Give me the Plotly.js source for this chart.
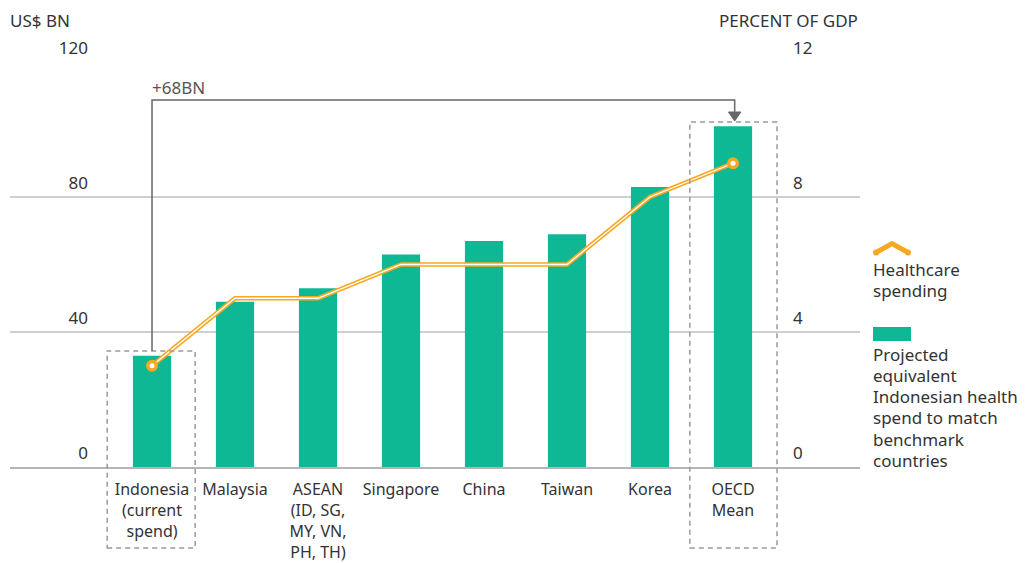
<!DOCTYPE html>
<html><head><meta charset="utf-8">
<script src="https://cdn.plot.ly/plotly-3.0.1.min.js"></script>
<style>html,body{margin:0;padding:0;background:#fff}#chart{width:1029px;height:563px}</style>
</head><body><div id="chart"></div>
<script>
// ---- data ----
const categories = ['Indonesia', 'Malaysia', 'ASEAN', 'Singapore', 'China', 'Taiwan', 'Korea', 'OECD Mean'];
const tickLabels = ['Indonesia<br>(current<br>spend)', 'Malaysia', 'ASEAN<br>(ID, SG,<br>MY, VN,<br>PH, TH)', 'Singapore', 'China', 'Taiwan', 'Korea', 'OECD<br>Mean'];
const spendBn = [33, 49, 53, 63, 67, 69, 83, 101];
const pctGdp = [3.0, 5.0, 5.0, 6.0, 6.0, 6.0, 8.0, 9.0];
const leftTicks = [0, 40, 80, 120];
const rightTicks = [0, 4, 8, 12];
const gapLabel = '+68BN';
const legendLineLines = ['Healthcare', 'spending'];
const legendBarLines = ['Projected', 'equivalent', 'Indonesian health', 'spend to match', 'benchmark', 'countries'];

// ---- styling ----
const GREEN = '#0fb894';
const ORANGE = '#f6a823';
const TEXT = '#333333';
const FONT = 'Noto Sans, Open Sans, sans-serif';
const FS = 17;
const W = 1029, H = 563, ML = 10, MR = 169, MT = 62, MB = 96;
const PW = W - ML - MR, PH = H - MT - MB;
const px = p => (p - ML) / PW;
const py = p => (H - MB - p) / PH;

const iFirst = 0, iLast = categories.length - 1;
const markIdx = [iFirst, iLast];

const traces = [
  {type: 'bar', x: categories, y: spendBn, marker: {color: GREEN}, yaxis: 'y', hoverinfo: 'x+y', showlegend: false},
  {type: 'scatter', mode: 'lines', x: categories, y: pctGdp, yaxis: 'y2', line: {color: ORANGE, width: 4.5}, showlegend: false, hoverinfo: 'skip'},
  {type: 'scatter', mode: 'lines', x: categories, y: pctGdp, yaxis: 'y2', line: {color: '#ffffff', width: 1.3}, showlegend: false, hoverinfo: 'x+y'},
  {type: 'scatter', mode: 'markers', x: markIdx.map(i => categories[i]), y: markIdx.map(i => pctGdp[i]), yaxis: 'y2', marker: {color: ORANGE, size: 12}, showlegend: false, hoverinfo: 'skip'},
  {type: 'scatter', mode: 'markers', x: markIdx.map(i => categories[i]), y: markIdx.map(i => pctGdp[i]), yaxis: 'y2', marker: {color: '#ffffff', size: 5}, showlegend: false, hoverinfo: 'skip'}
];

const yMax = leftTicks[leftTicks.length - 1];
const yv = v => v / yMax;
const dash = {color: '#9a9a9a', width: 1.5, dash: '5px,4px'};
const boxBottom = py(548);
const connTop = py(100);

const shapes = [
  {type: 'rect', xref: 'x', yref: 'paper', x0: iFirst - 0.54, x1: iFirst + 0.52, y0: boxBottom, y1: yv(spendBn[iFirst] + 1.4), line: dash, fillcolor: 'rgba(0,0,0,0)'},
  {type: 'rect', xref: 'x', yref: 'paper', x0: iLast - 0.52, x1: iLast + 0.53, y0: boxBottom, y1: yv(spendBn[iLast] + 1.2), line: dash, fillcolor: 'rgba(0,0,0,0)'},
  {type: 'path', xref: 'x', yref: 'paper',
   path: `M ${iFirst} ${yv(spendBn[iFirst] + 1.4)} L ${iFirst} ${connTop} L ${iLast + 0.02} ${connTop} L ${iLast + 0.02} ${py(114)}`,
   line: {color: '#666666', width: 1.5}},
  {type: 'path', xref: 'x', yref: 'paper',
   path: `M ${iLast + 0.02 - 0.075} ${py(112)} L ${iLast + 0.02 + 0.075} ${py(112)} L ${iLast + 0.02} ${py(121)} Z`,
   fillcolor: '#666666', line: {color: '#666666', width: 1}},
  {type: 'path', xref: 'paper', yref: 'paper',
   path: `M ${px(876)} ${py(252.5)} L ${px(892)} ${py(243.5)} L ${px(908)} ${py(252.5)}`,
   line: {color: ORANGE, width: 5}},
  {type: 'circle', xref: 'paper', yref: 'paper', x0: px(873), x1: px(879), y0: py(255.5), y1: py(249.5), fillcolor: ORANGE, line: {width: 0}},
  {type: 'circle', xref: 'paper', yref: 'paper', x0: px(905), x1: px(911), y0: py(255.5), y1: py(249.5), fillcolor: ORANGE, line: {width: 0}},
  {type: 'rect', xref: 'paper', yref: 'paper', x0: px(873), x1: px(911), y0: py(341), y1: py(327), fillcolor: GREEN, line: {width: 0}}
];

const txt = (x, y, text, xanchor, extra) => Object.assign({xref: 'paper', yref: 'paper', x: px(x), y: py(y), xanchor: xanchor, yanchor: 'middle', text: text, showarrow: false, font: {size: FS, color: TEXT}}, extra || {});

const annotations = [
  txt(10, 20, 'US$ BN', 'left', {xshift: -2}),
  txt(858, 20, 'PERCENT OF GDP', 'right', {xshift: 2}),
  {xref: 'x', yref: 'paper', x: iFirst, y: py(87), xanchor: 'left', yanchor: 'middle', text: gapLabel, showarrow: false, font: {size: FS, color: '#555555'}, xshift: -2}
];
const lineY1 = [269, 290];
legendLineLines.forEach((t, i) => annotations.push(txt(873, lineY1[i], t, 'left', {xshift: -2})));
legendBarLines.forEach((t, i) => annotations.push(txt(873, 354 + i * 21.3, t, 'left', {xshift: -2})));

const layout = {
  width: W, height: H,
  margin: {l: ML, r: MR, t: MT, b: MB, pad: 0},
  paper_bgcolor: '#ffffff', plot_bgcolor: '#ffffff',
  font: {family: FONT, size: FS, color: TEXT},
  showlegend: false,
  bargap: 0.54,
  xaxis: {
    type: 'category', range: [-1.711, categories.length - 1 + 1.53],
    tickvals: categories, ticktext: tickLabels,
    showgrid: false, zeroline: false, ticks: '',
    showline: true, linecolor: '#b5b5b5', linewidth: 2,
    ticklabelstandoff: 7,
    tickfont: {size: 16, color: TEXT}, fixedrange: true
  },
  yaxis: {
    range: [0, yMax], tickvals: leftTicks, ticktext: leftTicks.map(String),
    anchor: 'free', position: px(88), side: 'left',
    showgrid: true, gridcolor: '#cfcfcf', gridwidth: 1.5,
    zeroline: false, showline: false, ticks: '',
    ticklabelshift: -14,
    tickfont: {size: FS, color: TEXT}, fixedrange: true
  },
  yaxis2: {
    range: [0, rightTicks[rightTicks.length - 1]], tickvals: rightTicks, ticktext: rightTicks.map(String),
    overlaying: 'y', anchor: 'free', position: px(792), side: 'right',
    ticklabelposition: 'outside',
    showgrid: false, zeroline: false, showline: false, ticks: '',
    ticklabelshift: -14,
    tickfont: {size: FS, color: TEXT}, fixedrange: true
  },
  shapes: shapes,
  annotations: annotations
};

Plotly.newPlot('chart', traces, layout, {displayModeBar: false, staticPlot: true});
</script>
</body></html>
